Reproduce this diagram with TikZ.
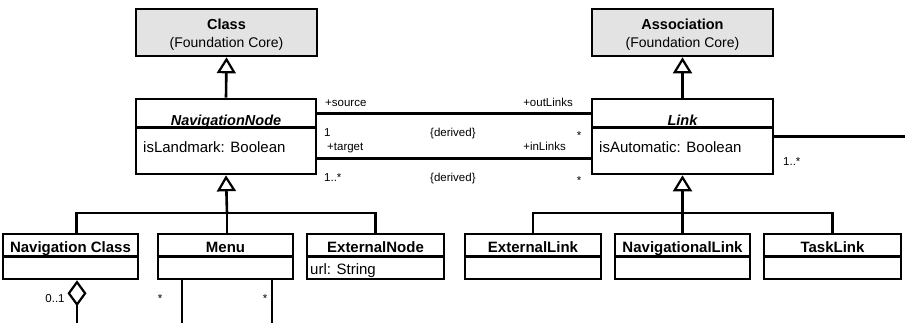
\documentclass[tikz,border=0pt]{standalone}
\usepackage{fontspec}
\setmainfont{Liberation Sans}
\usetikzlibrary{arrows.meta}
\begin{document}
\begin{tikzpicture}[x=1pt,y=-1pt,
  box/.style={draw, line width=2.6pt, rectangle, inner sep=0pt},
  graybox/.style={box, fill=gray!22},
  ln/.style={line width=2.6pt},
  gen/.style={ln, -{Triangle[open,line width=2.2pt,length=16pt,width=19pt]}},
  agg/.style={ln, {Diamond[open,line width=2.2pt,length=26pt,width=19pt]}-},
  ttl/.style={font=\fontsize{14.5}{17}\selectfont\bfseries, anchor=base, inner sep=0pt},
  sub/.style={font=\fontsize{14}{17}\selectfont, anchor=base, inner sep=0pt},
  attr/.style={font=\fontsize{15}{18}\selectfont, anchor=base west, inner sep=0pt},
  lbl/.style={font=\fontsize{11.5}{13}\selectfont, inner sep=0pt}
]
\useasboundingbox (0,0) rectangle (905,322);

% --- top gray classes
\node[graybox, minimum width=181pt, minimum height=47pt] (cls) at (226.5,32.5) {};
\node[ttl] (clsT) at (226.5,29) {Class};
\node[sub] (clsS) at (226.5,47) {(Foundation Core)};

\node[graybox, minimum width=181pt, minimum height=47pt] (asc) at (682.5,32.5) {};
\node[ttl] (ascT) at (682.5,29) {Association};
\node[sub] (ascS) at (682.5,47) {(Foundation Core)};

% --- NavigationNode
\node[box, minimum width=180pt, minimum height=75pt] (nn) at (226,136.5) {};
\draw[ln] ([yshift=-30pt]nn.north west) -- ([yshift=-30pt]nn.north east);
\node[ttl, font=\fontsize{14.5}{17}\selectfont\bfseries\itshape] (nnT) at (226,125.5) {NavigationNode};
\node[attr] (nnA) at (143,152) {isLandmark: Boolean};

% --- Link
\node[box, minimum width=181pt, minimum height=75pt] (lk) at (682.5,136.5) {};
\draw[ln] ([yshift=-30pt]lk.north west) -- ([yshift=-30pt]lk.north east);
\node[ttl, font=\fontsize{14.5}{17}\selectfont\bfseries\itshape] (lkT) at (682.5,125.5) {Link};
\node[attr] (lkA) at (599,152) {isAutomatic: Boolean};

% --- generalizations to top
\draw[gen] (nn.north) -- (cls.south);
\draw[gen] (lk.north) -- (asc.south);

% --- associations NavigationNode - Link
\draw[ln] ([yshift=-16pt]nn.north east) -- ([yshift=-16pt]lk.north west);
\draw[ln] ([yshift=-61pt]nn.north east) -- ([yshift=-61pt]lk.north west);
\node[lbl, anchor=base west] (src) at (325,106) {+source};
\node[lbl, anchor=base west] (one) at (324,136) {1};
\node[lbl, anchor=base west] (tgt) at (327,150) {+target};
\node[lbl, anchor=base west] (onem) at (324,181) {1..*};
\node[lbl, anchor=base west] (der1) at (430,136) {\{derived\}};
\node[lbl, anchor=base west] (der2) at (430,181) {\{derived\}};
\node[lbl, anchor=base east] (outl) at (573,106) {+outLinks};
\node[lbl, anchor=base east] (inl) at (566,150) {+inLinks};
\node[lbl, anchor=base] (st1) at (579,139) {*};
\node[lbl, anchor=base] (st2) at (579,184) {*};

% --- Link to right edge
\coordinate (redge) at (906,136.5);
\draw[ln] (lk.east) -- (redge);
\node[lbl, anchor=base west] (lkm) at (783,165) {1..*};

% --- bottom left classes
\node[box, minimum width=135pt, minimum height=45pt] (nc) at (70.5,256.5) {};
\draw[ln] ([yshift=-24pt]nc.north west) -- ([yshift=-24pt]nc.north east);
\node[ttl, font=\fontsize{15}{17}\selectfont\bfseries] (ncT) at (70.5,252) {Navigation Class};

\node[box, minimum width=135pt, minimum height=45pt] (mn) at (225.5,256.5) {};
\draw[ln] ([yshift=-24pt]mn.north west) -- ([yshift=-24pt]mn.north east);
\node[ttl, font=\fontsize{15}{17}\selectfont\bfseries] (mnT) at (225.5,252) {Menu};

\node[box, minimum width=137pt, minimum height=45pt] (en) at (375.5,256.5) {};
\draw[ln] ([yshift=-24pt]en.north west) -- ([yshift=-24pt]en.north east);
\node[ttl, font=\fontsize{15}{17}\selectfont\bfseries] (enT) at (375.5,252) {ExternalNode};
\node[attr] (enA) at (310,274) {url: String};

\coordinate (nnjoin) at (227,213);
\draw[gen] (nnjoin) -- (nn.south);
\draw[ln] ([xshift=6pt]nc.north) |- (nnjoin) -| (en.north);
\draw[ln] (nnjoin) -- ([xshift=1.5pt]mn.north);

% --- bottom right classes
\node[box, minimum width=136pt, minimum height=45pt] (el) at (533,256.5) {};
\draw[ln] ([yshift=-24pt]el.north west) -- ([yshift=-24pt]el.north east);
\node[ttl, font=\fontsize{15}{17}\selectfont\bfseries] (elT) at (533,252) {ExternalLink};

\node[box, minimum width=135pt, minimum height=45pt] (nl) at (682.5,256.5) {};
\draw[ln] ([yshift=-24pt]nl.north west) -- ([yshift=-24pt]nl.north east);
\node[ttl, font=\fontsize{15}{17}\selectfont\bfseries] (nlT) at (682.5,252) {NavigationalLink};

\node[box, minimum width=137pt, minimum height=45pt] (tl) at (832.5,256.5) {};
\draw[ln] ([yshift=-24pt]tl.north west) -- ([yshift=-24pt]tl.north east);
\node[ttl, font=\fontsize{15}{17}\selectfont\bfseries] (tlT) at (832.5,252) {TaskLink};

\coordinate (lkjoin) at (682.5,213);
\draw[gen] (lkjoin) -- (lk.south);
\draw[ln] (el.north) |- (lkjoin) -| (tl.north);
\draw[ln] (lkjoin) -- (nl.north);

% --- bottom dangling connectors
\coordinate (ncdown) at (77,323);
\coordinate (mdown1) at (182,323);
\coordinate (mdown2) at (272,323);
\draw[agg] (nc.south -| ncdown) -- (ncdown);
\draw[ln] (mn.south -| mdown1) -- (mdown1);
\draw[ln] (mn.south -| mdown2) -- (mdown2);
\node[lbl, anchor=base] (zo) at (55,302) {0..1};
\node[lbl, anchor=base] (ms1) at (160,302) {*};
\node[lbl, anchor=base] (ms2) at (265,302) {*};
\end{tikzpicture}
\end{document}
